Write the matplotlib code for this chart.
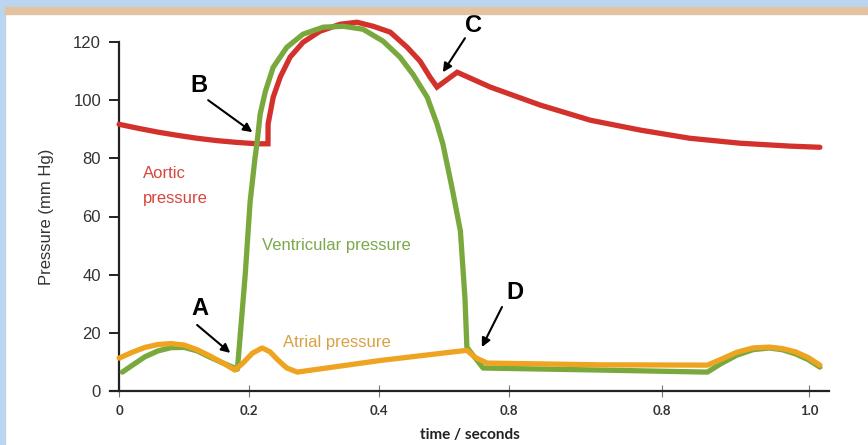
import matplotlib.pyplot as plt
from matplotlib.patches import Rectangle

# time (s) and pressure (mm Hg)
aortic_t = [0.0, 0.03, 0.06, 0.09, 0.12, 0.15, 0.18, 0.212, 0.229, 0.2292, 0.237, 0.248,
            0.263, 0.283, 0.309, 0.340, 0.366, 0.391, 0.417, 0.443, 0.463, 0.478, 0.489,
            0.520, 0.571, 0.648, 0.725, 0.802, 0.878, 0.955, 1.032, 1.078]
aortic_p = [91.7, 90.3, 89.0, 87.9, 86.9, 86.1, 85.5, 85.0, 85.0, 91.8, 101.0, 108.0,
            114.8, 119.9, 123.7, 126.1, 126.8, 125.4, 123.4, 118.2, 113.4, 108.0, 104.5,
            109.6, 104.5, 98.3, 93.1, 89.7, 86.9, 85.2, 84.2, 83.8]

vent_t = [0.005, 0.02, 0.04, 0.06, 0.08, 0.10, 0.12, 0.14, 0.16, 0.182, 0.194, 0.2015,
          0.209, 0.212, 0.217, 0.225, 0.237, 0.258, 0.283, 0.314, 0.345, 0.375, 0.406,
          0.432, 0.452, 0.474, 0.489, 0.498, 0.512, 0.525, 0.532, 0.535, 0.560, 0.740,
          0.905, 0.925, 0.950, 0.975, 1.0, 1.02, 1.04, 1.06, 1.078]
vent_p = [6.5, 8.8, 11.8, 13.8, 14.9, 15.0, 13.8, 11.6, 9.6, 7.5, 40.0, 65.0,
          80.0, 85.0, 95.2, 103.0, 111.3, 118.2, 122.7, 125.1, 125.4, 124.4, 120.3,
          114.8, 108.9, 101.0, 91.8, 85.0, 70.0, 55.0, 32.0, 15.0, 7.9, 7.2,
          6.5, 9.3, 12.3, 14.2, 14.8, 14.2, 12.8, 10.8, 8.2]

atrial_t = [0.0, 0.02, 0.04, 0.06, 0.08, 0.10, 0.12, 0.14, 0.16, 0.178, 0.19, 0.205,
            0.22, 0.232, 0.245, 0.258, 0.274, 0.402, 0.535, 0.548, 0.566, 0.740, 0.905,
            0.925, 0.950, 0.975, 1.0, 1.02, 1.04, 1.06, 1.078]
atrial_p = [11.3, 13.3, 15.0, 16.0, 16.3, 15.8, 14.2, 12.0, 9.6, 7.2, 9.5, 13.0,
            14.8, 13.5, 10.5, 7.9, 6.5, 10.5, 14.0, 11.5, 9.6, 9.0, 8.9,
            10.8, 13.3, 14.8, 15.1, 14.6, 13.5, 11.5, 8.9]

tick_labels = ["0", "0.2", "0.4", "0.8", "0.8", "1.0"]
y_ticks = [0, 20, 40, 60, 80, 100, 120]

# letter markers: (letter, text pos, arrow tail, arrow head)
markers = [
    ("A", (0.125, 28.5), (0.120, 22.7), (0.171, 13.1)),
    ("B", (0.123, 105.2), (0.137, 100.0), (0.205, 89.0)),
    ("C", (0.545, 125.8), (0.532, 121.3), (0.498, 109.6)),
    ("D", (0.609, 33.7), (0.589, 28.9), (0.558, 15.1)),
]

RED = "#d2322b"
GREEN = "#79a93d"
ORANGE = "#eea420"

plt.rcParams['font.family'] = ['Liberation Sans', 'DejaVu Sans']

fig = plt.figure(figsize=(8.68, 4.45), dpi=100)
fig.patch.set_facecolor("white")

# frame bands of the slide
fig.patches.append(Rectangle((0, 0), 5 / 868, 1, transform=fig.transFigure,
                             color="#b9d5ef", zorder=0))
fig.patches.append(Rectangle((0, 1 - 7 / 445), 1, 7 / 445, transform=fig.transFigure,
                             color="#b9d5ef", zorder=0))
fig.patches.append(Rectangle((5 / 868, 1 - 14 / 445), 1, 7 / 445, transform=fig.transFigure,
                             color="#e3c3a1", zorder=0))

ax = fig.add_axes([110 / 868, 54 / 445, 719 / 868, 349 / 445])
ax.set_facecolor("none")

ax.plot(aortic_t, aortic_p, color=RED, lw=3.8, solid_capstyle="round",
        solid_joinstyle="miter", zorder=3, clip_on=False)
ax.plot(vent_t, vent_p, color=GREEN, lw=3.8, solid_capstyle="round",
        solid_joinstyle="round", zorder=4, clip_on=False)
ax.plot(atrial_t, atrial_p, color=ORANGE, lw=3.8, solid_capstyle="round",
        solid_joinstyle="round", zorder=5, clip_on=False)

ax.set_xlim(-0.014, 1.092)
ax.set_ylim(0, 120)

for s in ["top", "right"]:
    ax.spines[s].set_visible(False)
ax.spines["left"].set_position(("data", 0))
ax.spines["left"].set_bounds(0, 120)
ax.spines["left"].set_linewidth(1.6)
ax.spines["bottom"].set_linewidth(1.6)
ax.spines["left"].set_color("#222222")
ax.spines["bottom"].set_color("#222222")

ax.set_yticks(y_ticks)
ax.set_yticklabels([str(v) for v in y_ticks])
ax.tick_params(axis="y", direction="out", length=7, width=1.4, pad=6,
               labelsize=12, labelcolor="#333333", color="#222222")

ax.set_xticks([0, 0.2, 0.4, 0.6, 0.835, 1.062])
ax.set_xticklabels(tick_labels, fontfamily="Lato", fontweight="bold")
ax.tick_params(axis="x", direction="inout", length=8, width=0.8, pad=6,
               labelsize=9.5, labelcolor="#333333", color="#777777")

ax.set_ylabel("Pressure (mm Hg)", fontsize=12, color="#333333")
ax.yaxis.set_label_coords(-0.078, 0.5)
ax.set_xlabel("time / seconds", fontsize=11, fontfamily="Lato", fontweight="bold",
              color="#222222", labelpad=8)

ax.text(0.037, 74.9, "Aortic", color="#d6463e", fontsize=12, va="center")
ax.text(0.037, 66.3, "pressure", color="#d6463e", fontsize=12, va="center")
ax.text(0.22, 50.2, "Ventricular pressure", color="#7aa84a", fontsize=12, va="center")
ax.text(0.252, 16.8, "Atrial pressure", color="#d9a043", fontsize=12, va="center")

for letter, pos, tail, head in markers:
    ax.text(pos[0], pos[1], letter, fontsize=17, fontweight="bold", color="black",
            ha="center", va="center", clip_on=False, zorder=6)
    ax.annotate("", xy=head, xytext=tail,
                arrowprops=dict(arrowstyle="-|>", color="black", lw=1.5,
                                mutation_scale=13, shrinkA=0, shrinkB=0),
                zorder=6, annotation_clip=False)

fig.savefig("out.png", dpi=100)
